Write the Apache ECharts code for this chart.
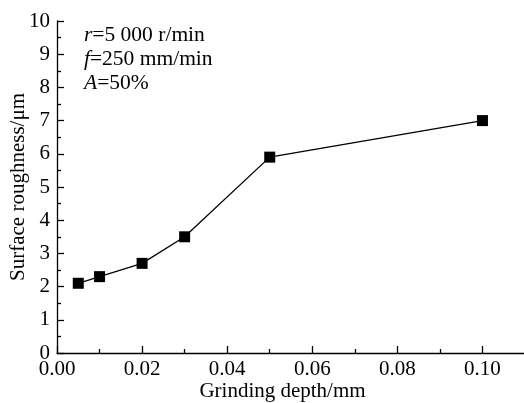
<!DOCTYPE html>
<html>
<head>
<meta charset="utf-8">
<script src="https://cdn.jsdelivr.net/npm/echarts@6/dist/echarts.min.js"></script>
<style>
  html, body { margin: 0; padding: 0; background: #fff; }
  #chart { width: 524px; height: 403px; }
</style>
</head>
<body>
<div id="chart"></div>
<script>
// Grinding depth (mm) vs. measured surface roughness (μm)
const grindingDepth = [0.005, 0.01, 0.02, 0.03, 0.05, 0.1];
const roughness = [2.1, 2.3, 2.7, 3.5, 5.9, 7.0];

// Process conditions shown in the upper-left corner
const conditionLines = [
  '{i|r}=5 000 r/min',
  '{i|f}=250 mm/min',
  '{i|A}=50%'
];

const FONT = '"Liberation Serif", "DejaVu Serif", serif';
const chart = echarts.init(document.getElementById('chart'), null, { renderer: 'canvas' });

const axisCommon = {
  nameMoveOverlap: false,
  axisLine: { show: true, lineStyle: { color: '#000', width: 1.3 } },
  axisTick: { show: true, inside: true, length: 7, lineStyle: { color: '#000', width: 1.3 } },
  minorTick: { show: true, splitNumber: 2, length: 4, lineStyle: { color: '#000', width: 1.3 } },
  splitLine: { show: false },
  minorSplitLine: { show: false }
};

chart.setOption({
  animation: false,
  backgroundColor: '#fff',
  grid: { left: 57, right: -1, top: 21, bottom: 50, containLabel: false, outerBoundsMode: 'none' },
  xAxis: Object.assign({
    type: 'value',
    min: 0,
    max: 0.11,
    interval: 0.02,
    name: 'Grinding depth/mm',
    nameLocation: 'middle',
    nameGap: 28,
    nameTextStyle: { fontFamily: FONT, fontSize: 21, color: '#000', padding: [0, 17, 0, 0] },
    axisLabel: {
      margin: 6,
      fontFamily: FONT, fontSize: 21, color: '#000',
      showMaxLabel: false,
      formatter: v => v.toFixed(2)
    }
  }, axisCommon),
  yAxis: Object.assign({
    type: 'value',
    min: 0,
    max: 10,
    interval: 1,
    name: 'Surface roughness/μm',
    nameLocation: 'middle',
    nameGap: 28,
    nameTextStyle: { fontFamily: FONT, fontSize: 21, color: '#000' },
    axisLabel: { margin: 7, fontFamily: FONT, fontSize: 21, color: '#000' }
  }, axisCommon),
  graphic: conditionLines.map((t, i) => ({
    type: 'text',
    left: 84,
    top: 24 + i * 24,
    style: {
      text: t,
      fontFamily: FONT,
      fontSize: 21.5,
      fill: '#000',
      rich: { i: { fontFamily: FONT, fontSize: 21.5, fontStyle: 'italic', fill: '#000' } }
    }
  })),
  series: [{
    type: 'line',
    data: grindingDepth.map((x, i) => [x, roughness[i]]),
    symbol: 'rect',
    symbolSize: 11,
    itemStyle: { color: '#000' },
    lineStyle: { color: '#000', width: 1.3 }
  }]
});
</script>
</body>
</html>
